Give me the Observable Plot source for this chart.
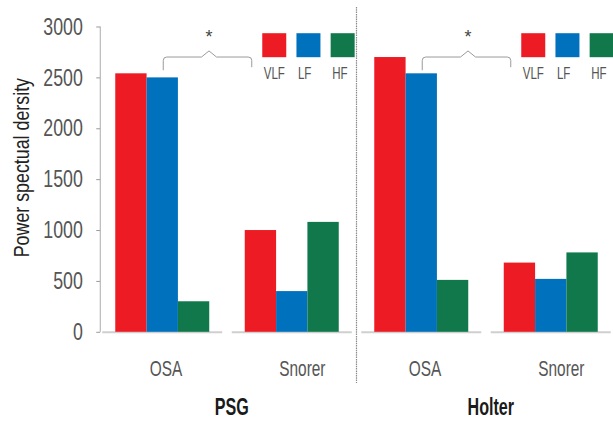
<!DOCTYPE html>
<html>
<head>
<meta charset="utf-8">
<script src="https://cdn.jsdelivr.net/npm/d3@7"></script>
<script src="https://cdn.jsdelivr.net/npm/@observablehq/plot@0.6"></script>
<style>
html, body { margin: 0; padding: 0; background: #fff; }
#chart { width: 613px; height: 421px; }
</style>
</head>
<body>
<div id="chart"></div>
<script>
// ---- data ----
const panels = ["PSG", "Holter"];
const groups = ["OSA", "Snorer"];
const bands = ["VLF", "LF", "HF"];
const colors = ["#ed1c24", "#0071bc", "#10784a"];
const psgOSA = [2540, 2500, 300];
const psgSnorer = [1000, 400, 1080];
const holterOSA = [2700, 2540, 510];
const holterSnorer = [680, 520, 780];
const yTicks = [0, 500, 1000, 1500, 2000, 2500, 3000];
const yLabel = "Power spectual dersity";
const significance = "*";

const FONT = "'Liberation Sans', Arial, sans-serif";

const seriesValues = {
  PSG: {OSA: psgOSA, Snorer: psgSnorer},
  Holter: {OSA: holterOSA, Snorer: holterSnorer}
};
const data = [];
for (const p of panels) for (const g of groups)
  bands.forEach((b, i) => data.push({panel: p, group: g, key: p + "|" + g, band: b, value: seriesValues[p][g][i]}));
const facetKeys = panels.flatMap(p => groups.map(g => p + "|" + g));
const groupRows = facetKeys.map(k => ({key: k, panel: k.split("|")[0], group: k.split("|")[1]}));
const snorerRows = groupRows.filter(d => d.group === "Snorer");
const firstRow = [groupRows[0]];

const legendMarks = bands.flatMap((b, i) => [
  Plot.dot(snorerRows, {fx: "key", frameAnchor: "top-left", dx: 42 + 34.2 * i, dy: 18.2,
    symbol: "square", r: 13.54, fill: colors[i]}),
  Plot.text(snorerRows, {fx: "key", frameAnchor: "top-left", dx: 31.5 + 34.2 * i, dy: 47,
    text: () => b, fontSize: 16, fill: "#555", textAnchor: "start", lineAnchor: "middle"})
]);

const plot = Plot.plot({
  width: 613,
  height: 421,
  marginTop: 26.5,
  marginBottom: 89.2,
  marginLeft: 100,
  marginRight: 0,
  style: {fontFamily: FONT, fontSize: "22px", background: "#fff", color: "#555"},
  fx: {domain: facetKeys, axis: null, paddingInner: 0.0734, paddingOuter: 0.0174, round: false},
  x: {domain: bands, axis: null, paddingInner: 0, paddingOuter: 0.415, round: false},
  y: {domain: [0, 3000], axis: null},
  color: {domain: bands, range: colors},
  marks: [
    Plot.ruleY([0], {stroke: "#cfcfcf", strokeWidth: 2}),
    Plot.barY(data, {fx: "key", x: "band", y: "value", fill: "band"}),
    Plot.axisY({ticks: yTicks, tickFormat: d => String(d), tickSize: 4, tickPadding: 14, dx: -2,
      fontSize: 24, color: "#555", stroke: "#999", label: null}),
    Plot.text(firstRow, {fx: "key", text: () => yLabel, frameAnchor: "left", rotate: -90,
      dx: -80.75, dy: -12, fontSize: 22, fill: "#222", textAnchor: "middle", lineAnchor: "middle"}),
    Plot.text(groupRows, {fx: "key", text: "group", frameAnchor: "bottom-left", textAnchor: "start",
      lineAnchor: "middle", dx: 47, dy: 36.5, fontSize: 22, fill: "#555"}),
    Plot.text(snorerRows, {fx: "key", text: "panel", frameAnchor: "bottom-left", textAnchor: "middle",
      lineAnchor: "middle", dx: -0.5, dy: 75, fontSize: 23, fontWeight: "bold", fill: "#1a1a1a"}),
    ...legendMarks
  ]
});

document.getElementById("chart").appendChild(plot);

// ---- overlay decorations computed from Plot's scales ----
const fx = plot.scale("fx");
const xs = plot.scale("x");
const ys = plot.scale("y");
const x0 = xs.range[0];
const bw = xs.bandwidth;
const fbw = fx.bandwidth;
const absX = (key, band) => fx.apply(key) + xs.apply(band) - x0;
const svg = d3.select(plot);
const deco = svg.append("g").attr("fill", "none");

// y axis line
const axisX = fx.apply(facetKeys[0]) - 2;
deco.append("line")
  .attr("x1", axisX).attr("x2", axisX)
  .attr("y1", ys.apply(3000)).attr("y2", ys.apply(0))
  .attr("stroke", "#aaa").attr("stroke-width", 1);

// divider between panels
const divX = (fx.apply("PSG|Snorer") + fbw + fx.apply("Holter|OSA")) / 2;
deco.append("line")
  .attr("x1", divX).attr("x2", divX)
  .attr("y1", 7).attr("y2", 383)
  .attr("stroke", "#8a8a8a").attr("stroke-width", 1.2).attr("stroke-dasharray", "1.5,0.8");

// significance brackets
for (const p of panels) {
  const L = absX(p + "|OSA", "LF") + bw / 2 + 1;
  const R = absX(p + "|Snorer", "VLF") + 7;
  const P = (L + R) / 2 + 1.5;
  const yTop = ys.apply(2700), yPeak = ys.apply(2760);
  const yL = ys.apply(2570), yR = ys.apply(2600);
  const r = 3.5, hw = 7.5;
  const path = `M${L},${yL}V${yTop + r}Q${L},${yTop} ${L + r},${yTop}H${P - hw}L${P},${yPeak}L${P + hw},${yTop}H${R - r}Q${R},${yTop} ${R},${yTop + r}V${yR}`;
  deco.append("path").attr("d", path).attr("stroke", "#9a9a9a").attr("stroke-width", 1);
  svg.append("text")
    .attr("x", P).attr("y", ys.apply(2935) + 10)
    .attr("text-anchor", "middle")
    .attr("font-size", 18).attr("fill", "#444")
    .attr("font-family", FONT)
    .text(significance);
}

// condense text to mimic the narrow typeface of the original
const condenseFactor = t => {
  if (t === yLabel) return 0.81;
  if (/^\d+$/.test(t)) return 0.74;
  if (groups.includes(t)) return 0.7;
  if (panels.includes(t)) return 0.7;
  if (bands.includes(t)) return 0.72;
  return 1;
};
svg.selectAll("text").each(function() {
  const f = condenseFactor(this.textContent);
  if (f === 1) return;
  const len = this.getComputedTextLength();
  if (len > 0) {
    this.setAttribute("textLength", len * f);
    this.setAttribute("lengthAdjust", "spacingAndGlyphs");
  }
});
</script>
</body>
</html>
